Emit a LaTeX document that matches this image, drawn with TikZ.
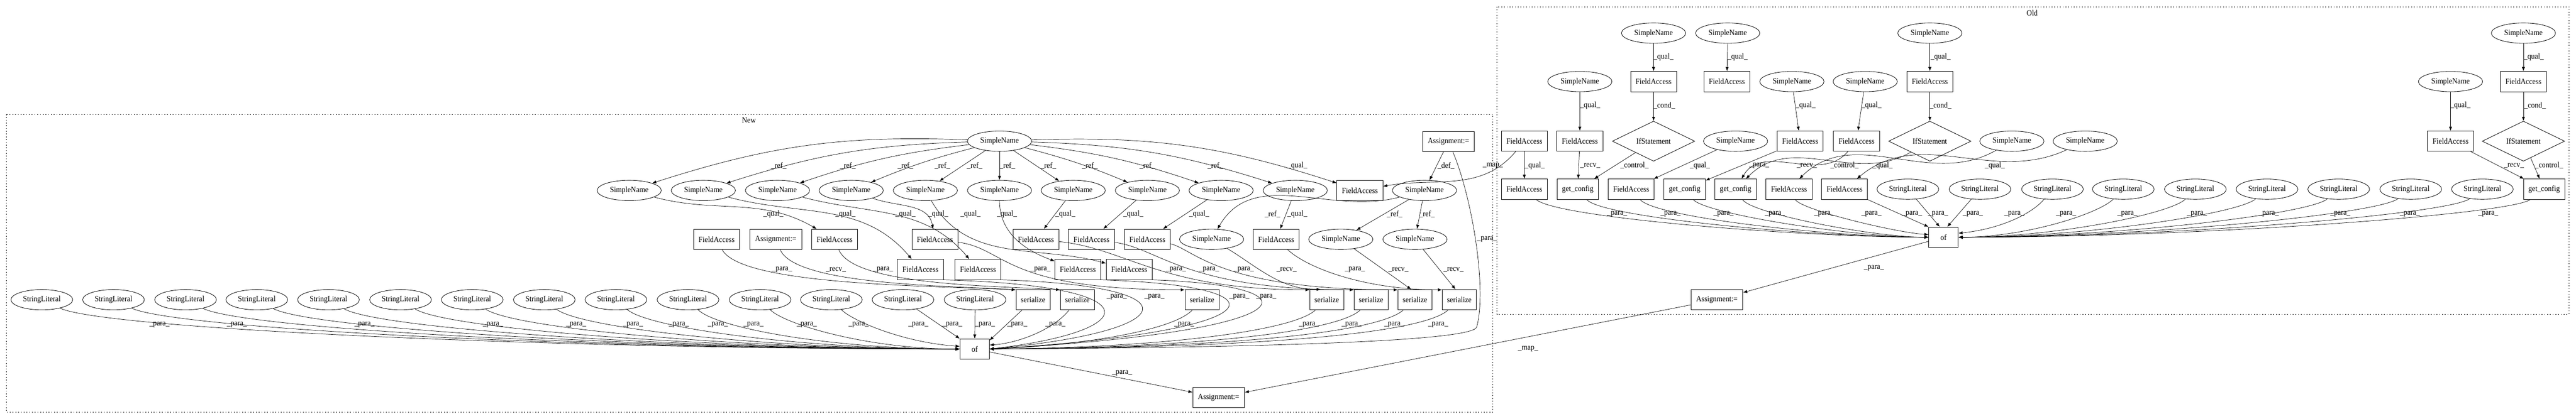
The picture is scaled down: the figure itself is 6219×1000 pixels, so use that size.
\documentclass[tikz,border=0pt]{standalone}
\usepackage{fontspec}
\setmainfont{Liberation Serif}[FakeStretch=0.92]
\usetikzlibrary{shapes.geometric,arrows.meta}

\begin{document}
\begin{tikzpicture}[x=0.02cm, y=-0.02cm, font=\fontsize{11}{13}\selectfont]
\tikzset{sn/.style={draw, ellipse, line width=0.6pt, minimum width=3.1cm, minimum height=0.98cm, inner sep=0pt},
  sl/.style={sn, minimum width=2.98cm},
  bx/.style={draw, rectangle, line width=0.6pt, minimum width=2.22cm, minimum height=0.98cm, inner sep=0pt},
  asg/.style={bx, minimum width=2.5cm},
  ser/.style={bx, minimum width=1.64cm},
  gc/.style={bx, minimum width=2cm},
  ofb/.style={bx, minimum width=1.42cm},
  ifs/.style={draw, diamond, line width=0.6pt, minimum width=3.98cm, minimum height=0.98cm, inner sep=0pt},
  arr/.style={draw, line width=0.5pt, -{Latex[length=0.2cm, width=0.15cm]}},
  lbl/.style={inner sep=0pt},
  clus/.style={draw, line width=0.5pt, dash pattern=on 1.2pt off 2.6pt}}
\useasboundingbox (0,0) rectangle (6219,1000);
% clusters
\draw[clus] (15,276) rectangle (3604,995);
\draw[clus] (3614,16) rectangle (6202,759);
\node (NEW) at (1808,291) {New};
\node (OLD) at (4906,31) {Old};
% New
\node[sn] (R) at (2413,341) {SimpleName};
\node[asg] (A1) at (3497,342) {Assignment:=};
\node[sn] (B1) at (1519,460) {SimpleName};
\node[sn] (B2) at (1698,460) {SimpleName};
\node[sn] (B3) at (1877,460) {SimpleName};
\node[sn] (B4) at (2055,460) {SimpleName};
\node[sn] (B5) at (2234,460) {SimpleName};
\node[sn] (B6) at (2413,460) {SimpleName};
\node[sn] (B7) at (2591,460) {SimpleName};
\node[sn] (B8) at (2770,460) {SimpleName};
\node[sn] (B9) at (2948,460) {SimpleName};
\node[sn] (B10) at (3127,460) {SimpleName};
\node[bx] (B11) at (3283,460) {FieldAccess};
\node[sn] (B12) at (3439,460) {SimpleName};
\node[bx] (C1) at (1730,578) {FieldAccess};
\node[asg] (C2) at (1873,578) {Assignment:=};
\node[bx] (C3) at (2015,578) {FieldAccess};
\node[bx] (C4) at (2257,578) {FieldAccess};
\node[bx] (C5) at (2501,578) {FieldAccess};
\node[bx] (C6) at (2635,578) {FieldAccess};
\node[bx] (C7) at (2770,578) {FieldAccess};
\node[sn] (C8) at (2925,578) {SimpleName};
\node[bx] (C9) at (3081,578) {FieldAccess};
\node[sn] (C10) at (3237,578) {SimpleName};
\node[sn] (C11) at (3416,578) {SimpleName};
\node[bx] (D1) at (2222,651) {FieldAccess};
\node[bx] (D2) at (2361,651) {FieldAccess};
\node[bx] (D3) at (2602,651) {FieldAccess};
\node[bx] (D4) at (2726,651) {FieldAccess};
\node[sl] (L1) at (101,724) {StringLiteral};
\node[sl] (L2) at (274,724) {StringLiteral};
\node[sl] (L3) at (448,724) {StringLiteral};
\node[sl] (L4) at (620,724) {StringLiteral};
\node[sl] (L5) at (793,724) {StringLiteral};
\node[sl] (L6) at (967,724) {StringLiteral};
\node[sl] (L7) at (1140,724) {StringLiteral};
\node[sl] (L8) at (1314,724) {StringLiteral};
\node[sl] (L9) at (1487,724) {StringLiteral};
\node[sl] (L10) at (1661,724) {StringLiteral};
\node[sl] (L11) at (1835,724) {StringLiteral};
\node[sl] (L12) at (2007,724) {StringLiteral};
\node[sl] (L13) at (2180,724) {StringLiteral};
\node[sl] (L14) at (2354,724) {StringLiteral};
\node[ser] (Z1) at (2494,724) {serialize};
\node[ser] (Z2) at (2601,724) {serialize};
\node[ser] (Z3) at (2902,724) {serialize};
\node[ser] (Z4) at (3203,724) {serialize};
\node[ser] (Z5) at (3310,724) {serialize};
\node[ser] (Z6) at (3416,724) {serialize};
\node[ser] (Z7) at (3523,724) {serialize};
\node[ofb] (OF) at (2353,843) {of};
\node[asg] (A2) at (2942,960) {Assignment:=};
% Old
\node[sn] (P1) at (3992,80) {SimpleName};
\node[sn] (P2) at (4171,80) {SimpleName};
\node[sn] (P3) at (4659,80) {SimpleName};
\node[sn] (P4) at (6092,80) {SimpleName};
\node[sn] (Q1) at (3814,197) {SimpleName};
\node[bx] (Q2) at (3992,197) {FieldAccess};
\node[bx] (Q3) at (4169,197) {FieldAccess};
\node[sn] (Q4) at (4326,197) {SimpleName};
\node[sn] (Q5) at (4503,197) {SimpleName};
\node[bx] (Q6) at (4659,197) {FieldAccess};
\node[sn] (Q7) at (5916,197) {SimpleName};
\node[bx] (Q8) at (6092,197) {FieldAccess};
\node[bx] (S1) at (3680,341) {FieldAccess};
\node[bx] (S2) at (3814,341) {FieldAccess};
\node[ifs] (S3) at (3992,341) {IfStatement};
\node[sn] (S4) at (4190,341) {SimpleName};
\node[bx] (S5) at (4346,341) {FieldAccess};
\node[bx] (S6) at (4482,341) {FieldAccess};
\node[ifs] (S7) at (4659,341) {IfStatement};
\node[sn] (S8) at (4857,341) {SimpleName};
\node[sn] (S9) at (5034,341) {SimpleName};
\node[bx] (S10) at (5916,341) {FieldAccess};
\node[ifs] (S11) at (6092,341) {IfStatement};
\node[bx] (T1) at (3680,457) {FieldAccess};
\node[gc] (T2) at (3809,457) {get\_config};
\node[bx] (T3) at (3938,457) {FieldAccess};
\node[gc] (T4) at (4067,457) {get\_config};
\node[gc] (T5) at (4190,457) {get\_config};
\node[bx] (T6) at (4319,457) {FieldAccess};
\node[bx] (T7) at (4453,457) {FieldAccess};
\node[sl] (T8) at (4606,457) {StringLiteral};
\node[sl] (T9) at (4780,457) {StringLiteral};
\node[sl] (T10) at (4955,457) {StringLiteral};
\node[sl] (T11) at (5126,457) {StringLiteral};
\node[sl] (T12) at (5300,457) {StringLiteral};
\node[sl] (T13) at (5473,457) {StringLiteral};
\node[sl] (T14) at (5646,457) {StringLiteral};
\node[sl] (T15) at (5820,457) {StringLiteral};
\node[sl] (T16) at (5993,457) {StringLiteral};
\node[gc] (T17) at (6142,457) {get\_config};
\node[ofb] (OOF) at (4692,573) {of};
\node[asg] (OA) at (4145,724) {Assignment:=};
% New edges
\draw[arr] (R) to[bend right=10] (B1) node[lbl] at (1880,400) {\_ref\_};
\draw[arr] (R) to[bend right=8] (B2) node[lbl] at (2047,400) {\_ref\_};
\draw[arr] (R) to[bend right=6] (B3) node[lbl] at (2186,400) {\_ref\_};
\draw[arr] (R) to[bend right=4] (B4) node[lbl] at (2275,400) {\_ref\_};
\draw[arr] (R) -- (B5) node[lbl] at (2353,400) {\_ref\_};
\draw[arr] (R) -- (B6) node[lbl] at (2432,400) {\_ref\_};
\draw[arr] (R) -- (B7) node[lbl] at (2531,400) {\_ref\_};
\draw[arr] (R) to[bend left=4] (B8) node[lbl] at (2631,400) {\_ref\_};
\draw[arr] (R) to[bend left=6] (B9) node[lbl] at (2770,400) {\_ref\_};
\draw[arr] (R) to[bend left=8] (B10) node[lbl] at (2934,400) {\_ref\_};
\draw[arr] (R) to[bend left=10] (B11) node[lbl] at (3132,400) {\_qual\_};
\draw[arr] (A1) -- (B12) node[lbl] at (3491,400) {\_def\_};
\draw[arr] (S1) to[out=-130,in=10] (B11) node[lbl] at (3604,400) {\_map\_};
\draw[arr] (B1) to[out=-15,in=150] (C3) node[lbl] at (1867,517) {\_qual\_};
\draw[arr] (B2) to[out=-15,in=130] (D1) node[lbl] at (2041,517) {\_qual\_};
\draw[arr] (B3) to[out=-15,in=130] (D2) node[lbl] at (2186,517) {\_qual\_};
\draw[arr] (B4) to[out=-20,in=100] (C4) node[lbl] at (2265,517) {\_qual\_};
\draw[arr] (B5) to[out=-60,in=165] (D4) node[lbl] at (2343,517) {\_qual\_};
\draw[arr] (B6) to[out=-90,in=160] (D3) node[lbl] at (2431,517) {\_qual\_};
\draw[arr] (B7) -- (C5) node[lbl] at (2572,517) {\_qual\_};
\draw[arr] (B8) -- (C6) node[lbl] at (2736,517) {\_qual\_};
\draw[arr] (B9) -- (C7) node[lbl] at (2895,517) {\_qual\_};
\draw[arr] (B10) -- (C9) node[lbl] at (3132,517) {\_qual\_};
\draw[arr] (B12) to[out=195,in=60] (C8) node[lbl] at (3072,517) {\_ref\_};
\draw[arr] (B12) -- (C10) node[lbl] at (3367,517) {\_ref\_};
\draw[arr] (B12) -- (C11) node[lbl] at (3445,517) {\_ref\_};
\draw[arr] (C1) .. controls (1790,690) and (2250,690) .. (Z1.150) node[lbl] at (1888,651) {\_para\_};
\draw[arr] (C2) .. controls (1920,690) and (2300,690) .. (Z1.150) node[lbl] at (2018,651) {\_recv\_};
\draw[arr] (C3) .. controls (2060,690) and (2400,690) .. (Z2.150) node[lbl] at (2132,651) {\_para\_};
\draw[arr] (C4) .. controls (2430,600) and (2420,700) .. (Z3.150) node[lbl] at (2512,651) {\_para\_};
\draw[arr] (C5) .. controls (2720,600) and (2800,700) .. (Z4.150) node[lbl] at (2839,651) {\_para\_};
\draw[arr] (C6) .. controls (2800,600) and (2860,700) .. (Z5.150) node[lbl] at (2919,651) {\_para\_};
\draw[arr] (C7) .. controls (2880,600) and (2940,700) .. (Z6.150) node[lbl] at (3003,651) {\_para\_};
\draw[arr] (C8) .. controls (3030,640) and (3090,700) .. (Z4.120) node[lbl] at (3106,651) {\_recv\_};
\draw[arr] (C9) .. controls (3160,650) and (3300,700) .. (Z7.150) node[lbl] at (3271,651) {\_para\_};
\draw[arr] (C10) -- (Z6.110) node[lbl] at (3376,651) {\_recv\_};
\draw[arr] (C11) -- (Z7.110) node[lbl] at (3509,651) {\_recv\_};
\draw[arr] (D1.south east) .. controls (2790,690) and (2760,800) .. (OF.east) node[lbl] at (2696,717) {\_para\_};
\draw[arr] (D2.south east) .. controls (2890,690) and (2860,800) .. (OF.east) node[lbl] at (2787,717) {\_para\_};
\draw[arr] (D3.south east) .. controls (3120,690) and (3090,800) .. (OF.east) node[lbl] at (2992,717) {\_para\_};
\draw[arr] (D4.south east) .. controls (3195,690) and (3165,800) .. (OF.east) node[lbl] at (3057,717) {\_para\_};
\draw[arr] (Z1) -- (OF.30) node[lbl] at (2456,784) {\_para\_};
\draw[arr] (Z2) .. controls (2540,800) and (2450,830) .. (OF.15) node[lbl] at (2548,784) {\_para\_};
\draw[arr] (Z3) .. controls (2830,800) and (2600,835) .. (OF.east) node[lbl] at (2859,784) {\_para\_};
\draw[arr] (Z4) .. controls (3120,800) and (2800,840) .. (OF.east) node[lbl] at (3160,784) {\_para\_};
\draw[arr] (Z5) .. controls (3230,800) and (2900,840) .. (OF.east) node[lbl] at (3263,784) {\_para\_};
\draw[arr] (Z6) .. controls (3330,800) and (3000,840) .. (OF.east) node[lbl] at (3366,784) {\_para\_};
\draw[arr] (Z7) .. controls (3440,800) and (3100,840) .. (OF.east) node[lbl] at (3472,784) {\_para\_};
\draw[arr] (A1) .. controls (3555,480) and (3590,700) .. (3565,790) .. controls (3555,826) and (3000,840) .. (OF.east) node[lbl] at (3590,578) {\_para\_};
\draw[arr] (L1) .. controls +(150,70) and +(-1000,0) .. (OF.west) node[lbl] at (385,784) {\_para\_};
\draw[arr] (L2) .. controls +(150,70) and +(-920,0) .. (OF.west) node[lbl] at (572,784) {\_para\_};
\draw[arr] (L3) .. controls +(140,70) and +(-840,0) .. (OF.west) node[lbl] at (880,784) {\_para\_};
\draw[arr] (L4) .. controls +(130,70) and +(-760,0) .. (OF.west) node[lbl] at (1190,784) {\_para\_};
\draw[arr] (L5) .. controls +(120,70) and +(-690,0) .. (OF.west) node[lbl] at (1391,784) {\_para\_};
\draw[arr] (L6) .. controls +(110,70) and +(-610,0) .. (OF.west) node[lbl] at (1528,784) {\_para\_};
\draw[arr] (L7) .. controls +(100,70) and +(-530,0) .. (OF.west) node[lbl] at (1639,784) {\_para\_};
\draw[arr] (L8) .. controls +(90,70) and +(-450,0) .. (OF.west) node[lbl] at (1733,784) {\_para\_};
\draw[arr] (L9) .. controls +(80,70) and +(-370,0) .. (OF.west) node[lbl] at (1819,784) {\_para\_};
\draw[arr] (L10) .. controls +(70,70) and +(-300,0) .. (OF.west) node[lbl] at (1948,784) {\_para\_};
\draw[arr] (L11) .. controls +(60,60) and +(-220,0) .. (OF.west) node[lbl] at (2073,784) {\_para\_};
\draw[arr] (L12) .. controls +(50,50) and +(-140,-10) .. (OF.170) node[lbl] at (2217,784) {\_para\_};
\draw[arr] (L13) -- (OF.north west) node[lbl] at (2299,784) {\_para\_};
\draw[arr] (L14) -- (OF) node[lbl] at (2378,784) {\_para\_};
\draw[arr] (OF) -- (A2) node[lbl] at (2709,901) {\_para\_};
\draw[arr] (OA) -- (A2) node[lbl] at (3689,843) {\_map\_};
% Old edges
\draw[arr] (P1) -- (Q2) node[lbl] at (4016,138) {\_qual\_};
\draw[arr] (P2) -- (Q3) node[lbl] at (4195,138) {\_qual\_};
\draw[arr] (P3) -- (Q6) node[lbl] at (4685,138) {\_qual\_};
\draw[arr] (P4) -- (Q8) node[lbl] at (6117,138) {\_qual\_};
\draw[arr] (Q1) -- (S2) node[lbl] at (3839,255) {\_qual\_};
\draw[arr] (Q2) -- (S3) node[lbl] at (4018,255) {\_cond\_};
\draw[arr] (Q4) -- (S5) node[lbl] at (4359,255) {\_qual\_};
\draw[arr] (Q5) -- (S6) node[lbl] at (4518,255) {\_qual\_};
\draw[arr] (Q6) -- (S7) node[lbl] at (4685,255) {\_cond\_};
\draw[arr] (Q7) -- (S10) node[lbl] at (5940,255) {\_qual\_};
\draw[arr] (Q8) -- (S11) node[lbl] at (6120,255) {\_cond\_};
\draw[arr] (S1) -- (T1) node[lbl] at (3705,400) {\_qual\_};
\draw[arr] (S2) -- (T2) node[lbl] at (3839,400) {\_recv\_};
\draw[arr] (S3) -- (T2) node[lbl] at (3946,400) {\_control\_};
\draw[arr] (S4) -- (T3) node[lbl] at (4104,400) {\_qual\_};
\draw[arr] (S5) -- (T4) node[lbl] at (4247,400) {\_para\_};
\draw[arr] (S6) to[out=-130,in=60] (T5) node[lbl] at (4362,400) {\_recv\_};
\draw[arr] (S7) to[out=-150,in=45] (T5) node[lbl] at (4453,400) {\_control\_};
\draw[arr] (S8) to[out=-150,in=45] (T6) node[lbl] at (4545,400) {\_qual\_};
\draw[arr] (S9) to[out=-155,in=40] (T7) node[lbl] at (4816,400) {\_qual\_};
\draw[arr] (S10) -- (T17) node[lbl] at (6069,400) {\_recv\_};
\draw[arr] (S11) -- (T17) node[lbl] at (6154,400) {\_control\_};
\draw[arr] (T1) .. controls +(80,70) and +(-300,0) .. (OOF.west) node[lbl] at (3904,517) {\_para\_};
\draw[arr] (T2) .. controls +(60,70) and +(-260,0) .. (OOF.west) node[lbl] at (4033,517) {\_para\_};
\draw[arr] (T3) .. controls +(60,70) and +(-220,0) .. (OOF.west) node[lbl] at (4161,517) {\_para\_};
\draw[arr] (T4) .. controls +(50,60) and +(-180,0) .. (OOF.west) node[lbl] at (4285,517) {\_para\_};
\draw[arr] (T5) .. controls +(40,60) and +(-130,0) .. (OOF.west) node[lbl] at (4404,517) {\_para\_};
\draw[arr] (T6) .. controls +(30,50) and +(-80,-5) .. (OOF.170) node[lbl] at (4518,517) {\_para\_};
\draw[arr] (T7) -- (OOF.north west) node[lbl] at (4616,517) {\_para\_};
\draw[arr] (T8) -- (OOF.110) node[lbl] at (4679,517) {\_para\_};
\draw[arr] (T9) -- (OOF.70) node[lbl] at (4763,517) {\_para\_};
\draw[arr] (T10) .. controls +(-50,60) and +(100,-10) .. (OOF.15) node[lbl] at (4863,517) {\_para\_};
\draw[arr] (T11) .. controls +(-60,60) and +(160,0) .. (OOF.east) node[lbl] at (4988,517) {\_para\_};
\draw[arr] (T12) .. controls +(-60,60) and +(230,0) .. (OOF.east) node[lbl] at (5136,517) {\_para\_};
\draw[arr] (T13) .. controls +(-70,60) and +(300,0) .. (OOF.east) node[lbl] at (5304,517) {\_para\_};
\draw[arr] (T14) .. controls +(-70,60) and +(380,0) .. (OOF.east) node[lbl] at (5477,517) {\_para\_};
\draw[arr] (T15) .. controls +(-80,60) and +(450,0) .. (OOF.east) node[lbl] at (5650,517) {\_para\_};
\draw[arr] (T16) .. controls +(-80,60) and +(520,0) .. (OOF.east) node[lbl] at (5818,517) {\_para\_};
\draw[arr] (T17) .. controls +(-80,60) and +(600,0) .. (OOF.east) node[lbl] at (6007,517) {\_para\_};
\draw[arr] (OOF) -- (OA) node[lbl] at (4524,648) {\_para\_};
\end{tikzpicture}
\end{document}
